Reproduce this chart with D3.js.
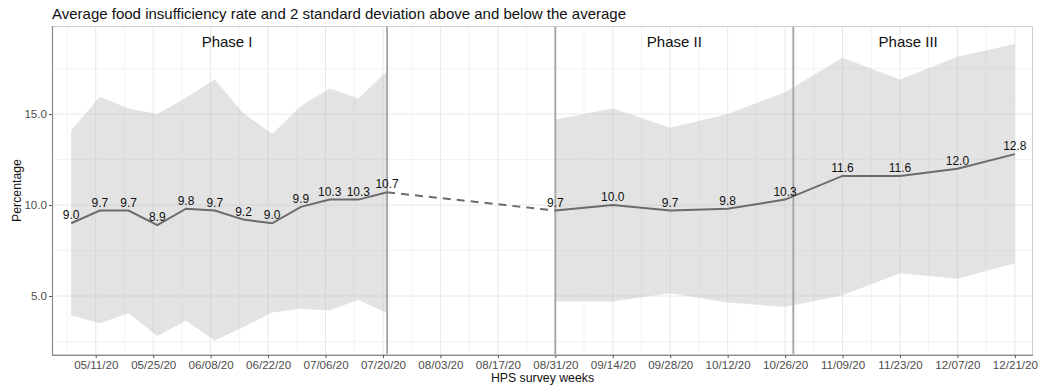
<!DOCTYPE html>
<html>
<head>
<meta charset="utf-8">
<script src="https://cdn.jsdelivr.net/npm/d3@7"></script>
<style>
  body { margin: 0; background: #fff; }
  svg { font-family: "Liberation Sans", Arial, Helvetica, sans-serif; }
</style>
</head>
<body>
<div id="chart"></div>
<script>
// survey week end dates, one per HPS week
var weeks = ["2020-05-05","2020-05-12","2020-05-19","2020-05-26","2020-06-02","2020-06-09",
             "2020-06-16","2020-06-23","2020-06-30","2020-07-07","2020-07-14","2020-07-21",
             "2020-08-31","2020-09-14","2020-09-28","2020-10-12","2020-10-26",
             "2020-11-09","2020-11-23","2020-12-07","2020-12-21"];
// which ribbon / line piece the week belongs to
var piece = [1,1,1,1,1,1,1,1,1,1,1,1, 2,2,2,2,2, 2,2,2,2];
var means = [9.0,9.7,9.7,8.9,9.8,9.7,9.2,9.0,9.9,10.3,10.3,10.7,
             9.7,10.0,9.7,9.8,10.3, 11.6,11.6,12.0,12.8];
var upper = [14.1,15.95,15.3,15.0,15.9,16.9,15.05,13.9,15.45,16.4,15.85,17.35,
             14.7,15.3,14.25,15.0,16.2, 18.1,16.9,18.15,18.85];
var lower = [3.95,3.5,4.05,2.8,3.65,2.55,3.3,4.1,4.3,4.2,4.8,4.05,
             4.7,4.7,5.15,4.65,4.4, 5.05,6.25,5.95,6.8];

var tickLabels = ["05/11/20","05/25/20","06/08/20","06/22/20","07/06/20","07/20/20","08/03/20",
                  "08/17/20","08/31/20","09/14/20","09/28/20","10/12/20","10/26/20","11/09/20",
                  "11/23/20","12/07/20","12/21/20"];
var yTicks = [5, 10, 15];
var yMinor = [2.5, 7.5, 12.5, 17.5];

var phaseLines = ["2020-07-21","2020-08-31","2020-10-28"];
var phaseNames = ["Phase I","Phase II","Phase III"];
var phaseLabelAt = ["2020-06-12","2020-09-29","2020-11-25"];

var W = 1044, H = 387;
var margin = {top: 26, right: 11, bottom: 32, left: 52};

var parseIso = d3.utcParse("%Y-%m-%d");
var parseTick = d3.utcParse("%m/%d/%y");

var data = weeks.map(function(w, i) {
    return {date: parseIso(w), mean: means[i], hi: upper[i], lo: lower[i], piece: piece[i]};
});

var svg = d3.select("#chart").append("svg")
    .attr("width", W).attr("height", H);

var x = d3.scaleUtc()
    .domain([new Date(Date.UTC(2020,3,30,8)), new Date(Date.UTC(2020,11,25,10))])
    .range([margin.left, W - margin.right]);
var y = d3.scaleLinear()
    .domain([1.76, 19.84])
    .range([H - margin.bottom, margin.top]);

var tickDates = tickLabels.map(parseTick);
var minorDates = tickDates.map(function(d) { return d3.utcDay.offset(d, -7); });

// grid
var grid = svg.append("g");
grid.selectAll(".xminor").data(minorDates).enter().append("line")
    .attr("x1", function(d) { return x(d); }).attr("x2", function(d) { return x(d); })
    .attr("y1", margin.top).attr("y2", H - margin.bottom)
    .style("stroke", "#f3f3f3").style("stroke-width", 1);
grid.selectAll(".yminor").data(yMinor).enter().append("line")
    .attr("x1", margin.left).attr("x2", W - margin.right)
    .attr("y1", function(d) { return y(d); }).attr("y2", function(d) { return y(d); })
    .style("stroke", "#f3f3f3").style("stroke-width", 1);
grid.selectAll(".xmajor").data(tickDates).enter().append("line")
    .attr("x1", function(d) { return x(d); }).attr("x2", function(d) { return x(d); })
    .attr("y1", margin.top).attr("y2", H - margin.bottom)
    .style("stroke", "#e8e8e8").style("stroke-width", 1);
grid.selectAll(".ymajor").data(yTicks).enter().append("line")
    .attr("x1", margin.left).attr("x2", W - margin.right)
    .attr("y1", function(d) { return y(d); }).attr("y2", function(d) { return y(d); })
    .style("stroke", "#e8e8e8").style("stroke-width", 1);

// ribbons
var area = d3.area()
    .x(function(d) { return x(d.date); })
    .y0(function(d) { return y(d.lo); })
    .y1(function(d) { return y(d.hi); });
var pieces = d3.groups(data, function(d) { return d.piece; });
svg.selectAll(".ribbon").data(pieces).enter().append("path")
    .attr("d", function(p) { return area(p[1]); })
    .style("fill", "#b8b8b8").style("opacity", 0.4);

// phase dividers
svg.selectAll(".phase").data(phaseLines).enter().append("line")
    .attr("x1", function(d) { return x(parseIso(d)); })
    .attr("x2", function(d) { return x(parseIso(d)); })
    .attr("y1", margin.top).attr("y2", H - margin.bottom)
    .style("stroke", "#a3a3a3").style("stroke-width", 1.8);

// mean line
var line = d3.line()
    .x(function(d) { return x(d.date); })
    .y(function(d) { return y(d.mean); });
svg.selectAll(".mean").data(pieces).enter().append("path")
    .attr("d", function(p) { return line(p[1]); })
    .style("fill", "none").style("stroke", "#6b6b6b").style("stroke-width", 2);
// gap between phase I and II
svg.append("path")
    .attr("d", line([data[11], data[12]]))
    .style("fill", "none").style("stroke", "#6b6b6b").style("stroke-width", 2)
    .style("stroke-dasharray", "8,6");

// value labels
svg.selectAll(".lbl").data(data).enter().append("text")
    .attr("x", function(d) { return x(d.date); })
    .attr("y", function(d) { return y(d.mean) - 4; })
    .attr("text-anchor", "middle")
    .style("font-size", "12px").style("fill", "#111")
    .text(function(d) { return d3.format(".1f")(d.mean); });

// phase labels
svg.selectAll(".pname").data(phaseNames).enter().append("text")
    .attr("x", function(d, i) { return x(parseIso(phaseLabelAt[i])); })
    .attr("y", 47)
    .attr("text-anchor", "middle")
    .style("font-size", "15px").style("fill", "#111")
    .text(function(d) { return d; });

// panel border
svg.append("rect")
    .attr("x", margin.left + 0.5).attr("y", margin.top + 0.5)
    .attr("width", W - margin.left - margin.right - 1)
    .attr("height", H - margin.top - margin.bottom - 1)
    .style("fill", "none").style("stroke", "#cccccc").style("stroke-width", 1);

// axes
var xAxis = d3.axisBottom(x).tickValues(tickDates).tickSize(3).tickPadding(3)
    .tickFormat(d3.utcFormat("%m/%d/%y"));
var gx = svg.append("g").attr("transform", "translate(0," + (H - margin.bottom) + ")").call(xAxis);
var yAxis = d3.axisLeft(y).tickValues(yTicks).tickSize(3).tickPadding(2)
    .tickFormat(d3.format(".1f"));
var gy = svg.append("g").attr("transform", "translate(" + margin.left + ",0)").call(yAxis);

[gx, gy].forEach(function(g) {
    g.select(".domain").style("stroke", "#8a8a8a").style("stroke-width", 1.2);
    g.selectAll(".tick line").style("stroke", "#555");
    g.selectAll(".tick text").style("fill", "#4d4d4d").style("font-size", "11.6px")
        .style("font-family", "Liberation Sans, Arial, sans-serif");
});
gx.select(".domain").attr("d", "M" + margin.left + ",0.5H" + (W - margin.right));
gy.select(".domain").attr("d", "M0.5," + margin.top + "V" + (H - margin.bottom));

// titles
svg.append("text")
    .attr("x", 52).attr("y", 19)
    .style("font-size", "15px").style("fill", "#111")
    .text("Average food insufficiency rate and 2 standard deviation above and below the average");
svg.append("text")
    .attr("x", (margin.left + W - margin.right) / 2).attr("y", 382)
    .attr("text-anchor", "middle")
    .style("font-size", "12.3px").style("fill", "#111")
    .text("HPS survey weeks");
svg.append("text")
    .attr("transform", "translate(21," + ((margin.top + H - margin.bottom) / 2) + ") rotate(-90)")
    .attr("text-anchor", "middle")
    .style("font-size", "12.3px").style("fill", "#111")
    .text("Percentage");
</script>
</body>
</html>
